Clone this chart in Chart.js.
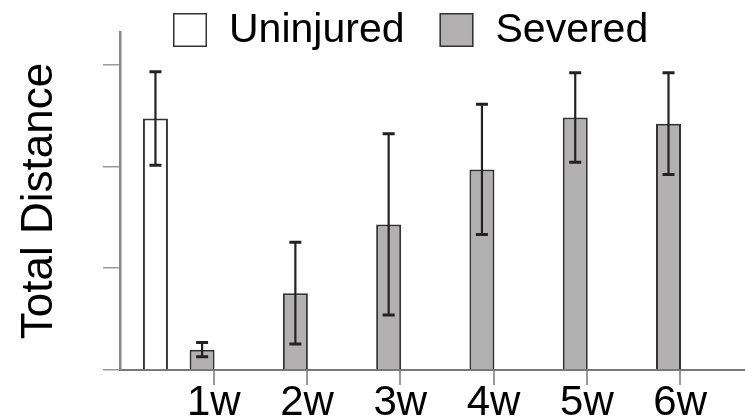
<!DOCTYPE html>
<html>
<head>
<meta charset="utf-8">
<script src="https://cdn.jsdelivr.net/npm/chart.js@4.4.1/dist/chart.umd.min.js"></script>
<style>
  body { margin: 0; background: #fff; }
  canvas { display: block; }
</style>
</head>
<body>
<canvas id="myChart1" width="745" height="419"></canvas>
<script>
var weeks = ["1w", "2w", "3w", "4w", "5w", "6w"];
var uninjuredMean = [2.47];
var uninjuredErr = [0.46];
var severedMean = [0.2, 0.755, 1.43, 1.97, 2.48, 2.42];
var severedErr = [0.07, 0.5, 0.89, 0.64, 0.44, 0.5];

// bars sit on a hidden linear axis, the week labels on a second one shifted to the bar's right edge
var xMin = 0.37, xMax = 7.07, tickShift = 0.375;
var FONT = "'Liberation Sans', Arial, sans-serif";

var errorBars = {
  id: "errorBars",
  afterDatasetsDraw: function (chart) {
    var ctx = chart.ctx, y = chart.scales.y;
    ctx.save();
    ctx.strokeStyle = "#222";
    chart.data.datasets.forEach(function (ds, di) {
      chart.getDatasetMeta(di).data.forEach(function (bar, i) {
        var v = ds.data[i].y, e = ds.errors[i];
        var top = y.getPixelForValue(v + e), bot = y.getPixelForValue(v - e);
        ctx.lineWidth = 2.2;
        ctx.beginPath();
        ctx.moveTo(bar.x, top);
        ctx.lineTo(bar.x, bot);
        ctx.stroke();
        ctx.lineWidth = 3;
        ctx.beginPath();
        ctx.moveTo(bar.x - 6, top); ctx.lineTo(bar.x + 6, top);
        ctx.moveTo(bar.x - 6, bot); ctx.lineTo(bar.x + 6, bot);
        ctx.stroke();
      });
    });
    ctx.restore();
  }
};

// legend overlaps the top of the plot in the original, so it is drawn by hand
var topLegend = {
  id: "topLegend",
  afterDraw: function (chart) {
    var ctx = chart.ctx, x = 173, top = 13, size = 34;
    ctx.save();
    ctx.font = "41px " + FONT;
    ctx.textBaseline = "middle";
    chart.data.datasets.forEach(function (ds) {
      ctx.fillStyle = ds.backgroundColor;
      ctx.fillRect(x, top, size, size);
      ctx.strokeStyle = ds.borderColor;
      ctx.lineWidth = 1.5;
      ctx.strokeRect(x + 0.75, top + 0.75, size - 1.5, size - 1.5);
      ctx.fillStyle = "#000";
      ctx.fillText(ds.label, x + size + 22, top + size / 2 + 1);
      x += size + 22 + ctx.measureText(ds.label).width + 35;
    });
    ctx.restore();
  }
};

var ctx = document.getElementById("myChart1").getContext("2d");
var chart = new Chart(ctx, {
  type: "bar",
  data: {
    datasets: [
      {
        label: "Uninjured",
        backgroundColor: "#ffffff",
        borderColor: "#333",
        borderWidth: 2,
        data: uninjuredMean.map(function (v, i) { return { x: i + 1, y: v }; }),
        errors: uninjuredErr
      },
      {
        label: "Severed",
        backgroundColor: "#b2b0b0",
        borderColor: "#333",
        borderWidth: 2,
        data: severedMean.map(function (v, i) { return { x: i + 1, y: v }; }),
        errors: severedErr
      }
    ]
  },
  options: {
    responsive: false,
    animation: false,
    categoryPercentage: 1.0,
    barPercentage: 0.536,
    layout: { padding: { top: 32, right: 0, bottom: -2.4, left: 0 } },
    plugins: {
      tooltip: { enabled: false },
      legend: { display: false }
    },
    scales: {
      x: {
        type: "linear",
        display: false,
        offset: false,
        min: xMin,
        max: xMax,
        ticks: { stepSize: 1, includeBounds: false },
        grid: { offset: false }
      },
      xt: {
        type: "linear",
        axis: "x",
        position: "bottom",
        offset: false,
        min: xMin - tickShift,
        max: xMax - tickShift,
        afterBuildTicks: function (s) {
          s.ticks = s.ticks.filter(function (t) { return t.value >= 1 && t.value <= weeks.length; });
        },
        ticks: {
          stepSize: 1,
          includeBounds: false,
          padding: -7,
          color: "#000",
          font: { size: 42, family: FONT },
          callback: function (v) { return weeks[v - 1]; }
        },
        grid: { offset: false, drawOnChartArea: false, tickLength: 15, color: "#999", lineWidth: 2 },
        border: { color: "#777", width: 2 }
      },
      y: {
        min: 0,
        max: 3.32,
        ticks: { display: false, stepSize: 1, includeBounds: false },
        grid: { drawOnChartArea: false, tickLength: 17, color: "#999", lineWidth: 1.5 },
        border: { color: "#888", width: 2.5 },
        title: {
          display: true,
          text: "Total Distance",
          color: "#000",
          font: { size: 44, family: FONT },
          padding: { top: 13, bottom: 37.2 }
        }
      }
    }
  },
  plugins: [errorBars, topLegend]
});
</script>
</body>
</html>
